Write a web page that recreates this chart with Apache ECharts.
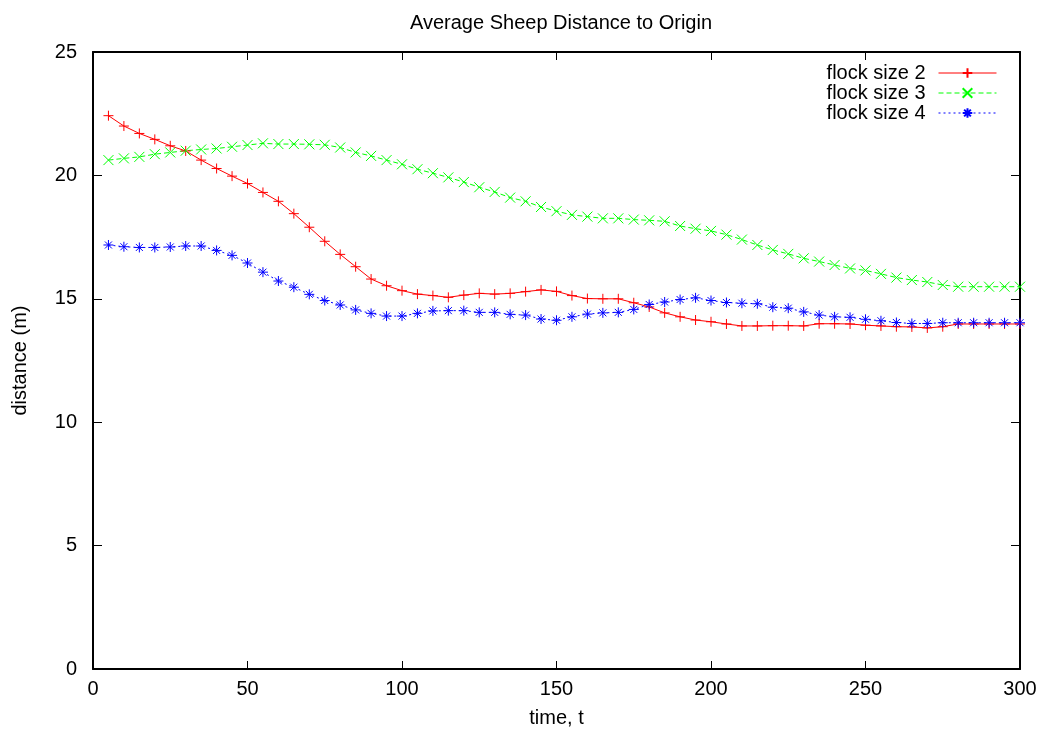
<!DOCTYPE html>
<html>
<head>
<meta charset="utf-8">
<title>Average Sheep Distance to Origin</title>
<script src="https://cdn.jsdelivr.net/npm/echarts@6/dist/echarts.min.js"></script>
<style>
html, body { margin: 0; padding: 0; background: #fff; }
#chart { width: 1045px; height: 729px; }
</style>
</head>
<body>
<div id="chart"></div>
<script>
// time steps, t = 5 .. 300
var times = [];
for (var t = 5; t <= 300; t += 5) times.push(t);

var flock2 = [22.42, 22.0, 21.70, 21.46, 21.20, 20.99, 20.62, 20.28, 19.97, 19.67,
              19.31, 18.95, 18.45, 17.90, 17.33, 16.80, 16.30, 15.80, 15.53, 15.33,
              15.19, 15.13, 15.06, 15.15, 15.22, 15.19, 15.22, 15.29, 15.36, 15.30,
              15.13, 15.01, 15.00, 15.00, 14.84, 14.67, 14.43, 14.27, 14.14, 14.07,
              13.98, 13.90, 13.90, 13.91, 13.91, 13.90, 13.99, 13.99, 13.98, 13.93,
              13.90, 13.87, 13.86, 13.82, 13.87, 13.98, 13.98, 13.98, 13.98, 13.98];
var flock3 = [20.62, 20.69, 20.75, 20.86, 20.93, 21.00, 21.05, 21.09, 21.16, 21.23,
              21.30, 21.27, 21.27, 21.26, 21.24, 21.13, 20.93, 20.79, 20.62, 20.45,
              20.25, 20.09, 19.92, 19.73, 19.52, 19.33, 19.10, 18.95, 18.72, 18.55,
              18.40, 18.33, 18.26, 18.26, 18.21, 18.18, 18.14, 17.95, 17.84, 17.75,
              17.60, 17.40, 17.18, 16.98, 16.82, 16.64, 16.51, 16.37, 16.23, 16.15,
              16.01, 15.86, 15.76, 15.68, 15.56, 15.49, 15.49, 15.49, 15.49, 15.49];
var flock4 = [17.18, 17.11, 17.08, 17.08, 17.10, 17.14, 17.14, 16.96, 16.76, 16.45,
              16.08, 15.72, 15.47, 15.18, 14.93, 14.75, 14.55, 14.41, 14.30, 14.30,
              14.41, 14.51, 14.52, 14.52, 14.45, 14.45, 14.37, 14.34, 14.18, 14.13,
              14.27, 14.38, 14.43, 14.45, 14.57, 14.77, 14.87, 14.97, 15.04, 14.93,
              14.85, 14.82, 14.80, 14.66, 14.62, 14.47, 14.34, 14.27, 14.25, 14.17,
              14.11, 14.04, 14.00, 14.00, 14.03, 14.03, 14.03, 14.03, 14.03, 14.03];

var seriesNames = ['flock size 2', 'flock size 3', 'flock size 4'];
var seriesColors = ['#ff0000', '#00ff00', '#0000ff'];

var plusPath = 'path://M0,5L10,5M5,0L5,10';
var crossPath = 'path://M0,0L10,10M10,0L0,10';
var starPath = 'path://M0,5L10,5M5,0L5,10M1.5,1.5L8.5,8.5M8.5,1.5L1.5,8.5';

function pairs(vals) {
    return times.map(function (t, i) { return [t, vals[i]]; });
}

var font = 'Liberation Sans, Arial, sans-serif';
var txt = { fontFamily: font, fontSize: 20, color: '#000' };

function makeSeries(name, vals, color, symbol, lineType) {
    return {
        name: name,
        type: 'line',
        data: pairs(vals),
        symbol: symbol,
        symbolSize: 10,
        showSymbol: true,
        smooth: false,
        animation: false,
        itemStyle: { color: color, borderColor: color, borderWidth: 1 },
        lineStyle: { color: color, width: 1, type: lineType }
    };
}

// frame axes: mirrored ticks on all four sides, like gnuplot
function frameX(pos, labels) {
    return {
        type: 'value', min: 0, max: 300, interval: 50, position: pos,
        axisLine: { onZero: false, lineStyle: { color: '#000', width: 2 } },
        axisTick: { inside: true, length: 8, lineStyle: { color: '#000', width: 1 } },
        axisLabel: labels ? { fontFamily: font, fontSize: 20, color: '#000', margin: 10 } : { show: false },
        splitLine: { show: false }
    };
}
function frameY(pos, labels) {
    return {
        type: 'value', min: 0, max: 25, interval: 5, position: pos,
        axisLine: { show: true, onZero: false, lineStyle: { color: '#000', width: 2 } },
        axisTick: { show: true, inside: true, length: 9, lineStyle: { color: '#000', width: 1 } },
        axisLabel: labels ? { fontFamily: font, fontSize: 20, color: '#000', margin: 16 } : { show: false },
        splitLine: { show: false }
    };
}

var xBottom = frameX('bottom', true);
xBottom.name = 'time, t';
xBottom.nameLocation = 'middle';
xBottom.nameGap = 39;
xBottom.nameTextStyle = txt;

var yLeft = frameY('left', true);
yLeft.name = 'distance (m)';
yLeft.nameLocation = 'middle';
yLeft.nameGap = 63;
yLeft.nameTextStyle = txt;

var chart = echarts.init(document.getElementById('chart'));
var option = {
    backgroundColor: '#fff',
    animation: false,
    title: {
        text: 'Average Sheep Distance to Origin',
        left: 556,
        textAlign: 'center',
        top: 8,
        textStyle: { fontFamily: font, fontSize: 20, fontWeight: 'normal', color: '#000' }
    },
    legend: {
        orient: 'vertical',
        right: 43,
        top: 58,
        align: 'right',
        itemWidth: 58,
        itemHeight: 12,
        itemGap: 0,
        lineStyle: { width: 1 },
        textStyle: { fontFamily: font, fontSize: 20, color: '#000', lineHeight: 19.5, padding: [0, 8, 0, 0] },
        data: seriesNames
    },
    grid: { left: 93, right: 25, top: 52, bottom: 60, show: false, outerBoundsMode: 'none' },
    xAxis: [xBottom, frameX('top', false)],
    yAxis: [yLeft, frameY('right', false)],
    series: [
        makeSeries(seriesNames[0], flock2, seriesColors[0], plusPath, 'solid'),
        makeSeries(seriesNames[1], flock3, seriesColors[1], crossPath, [5, 3]),
        makeSeries(seriesNames[2], flock4, seriesColors[2], starPath, [2, 3])
    ]
};
chart.setOption(option);
</script>
</body>
</html>
